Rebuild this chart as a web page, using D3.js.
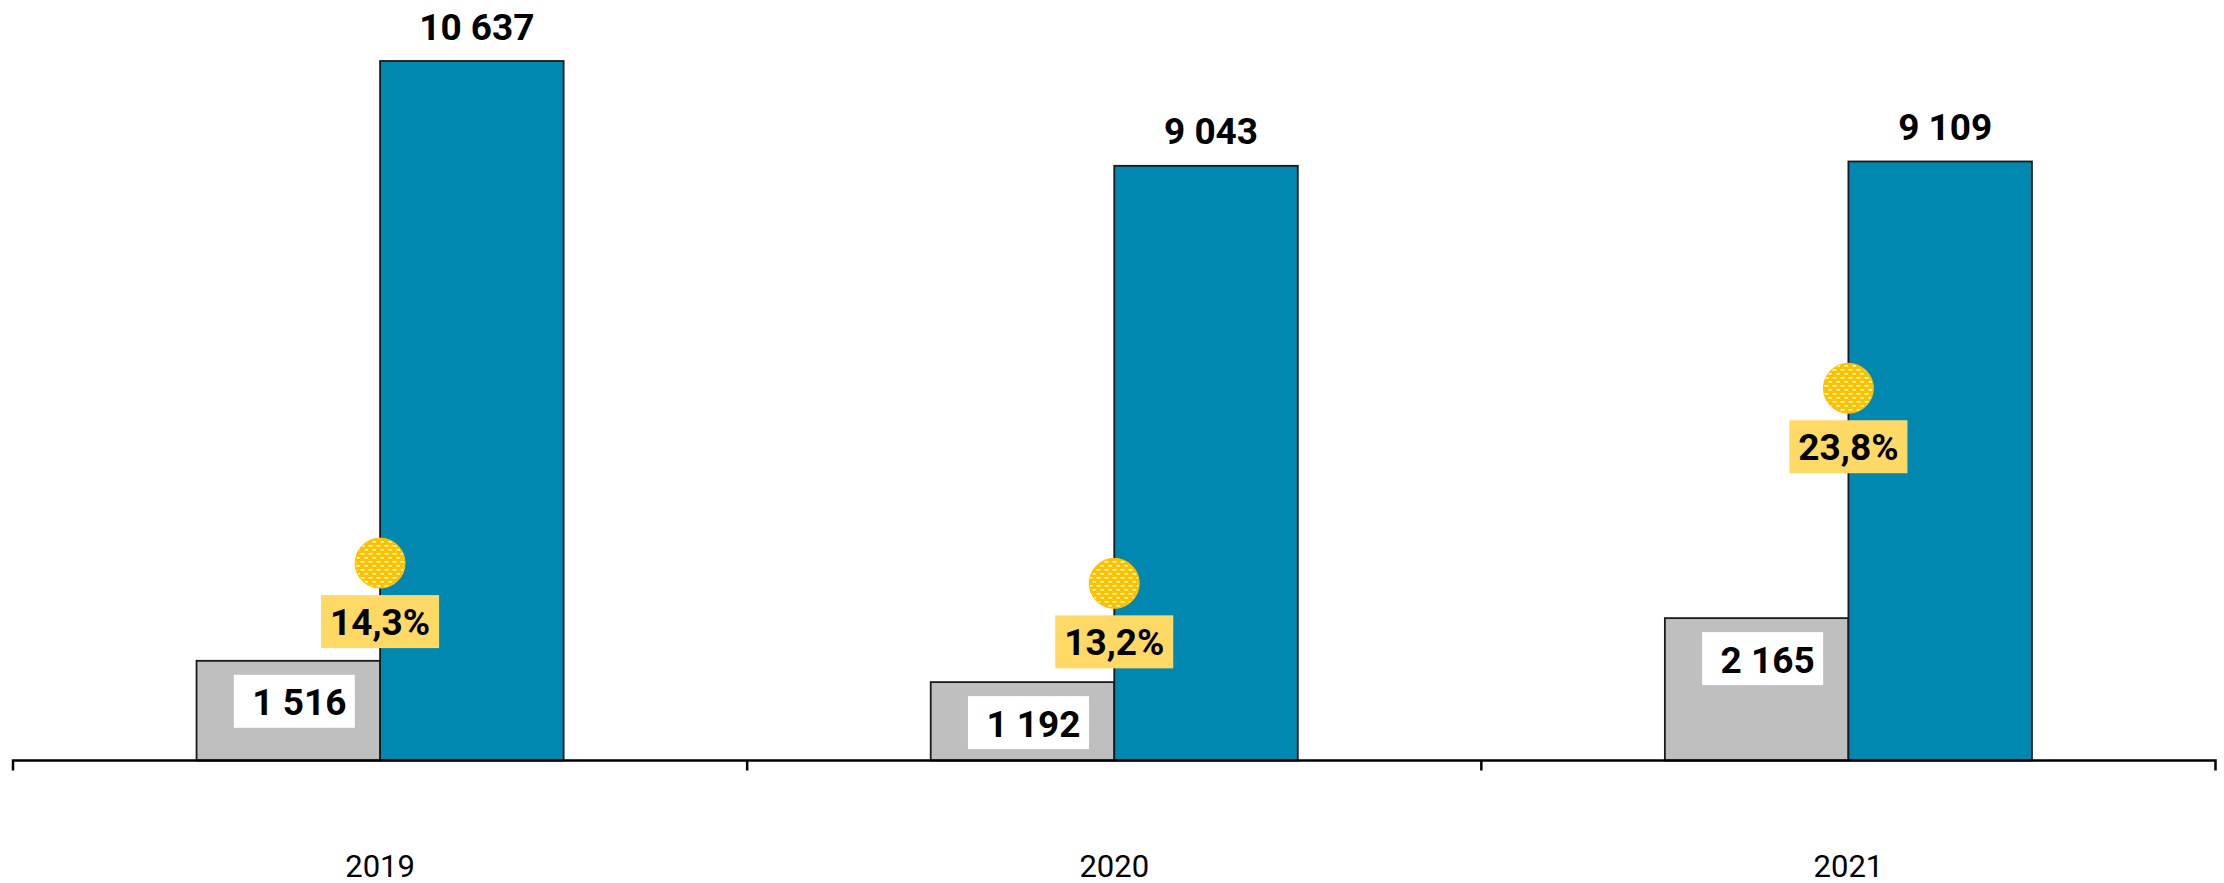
<!DOCTYPE html>
<html>
<head>
<meta charset="utf-8">
<script src="https://cdn.jsdelivr.net/npm/d3@7/dist/d3.min.js"></script>
<style>
  html, body { margin: 0; padding: 0; background: #fff; }
  svg { display: block; font-family: Roboto, "Noto Sans", sans-serif; }
</style>
</head>
<body>
<svg id="chart" width="2224" height="883"></svg>
<script>
// ---- data ----
const categories = ["2019", "2020", "2021"];
const grayValues = [1516, 1192, 2165];
const blueValues = [10637, 9043, 9109];
const shareValues = [14.3, 13.2, 23.8];
const grayLabels = ["1 516", "1 192", "2 165"];
const blueLabels = ["10 637", "9 043", "9 109"];
const shareLabels = ["14,3%", "13,2%", "23,8%"];

const svg = d3.select("#chart");
const W = 2224, H = 883;
const axisY = 760.5;
const x0 = 13, x1 = 2215.5;

const x = d3.scaleBand().domain(categories).range([x0, x1]).paddingInner(0).paddingOuter(0);
const y = d3.scaleLinear().domain([0, 10637]).range([axisY, 61]);
const y2 = d3.scaleLinear().domain([0, 45]).range([826.3, 826.3 - 45 * 18.406]);

const barW = x.bandwidth() * 0.25;
const cx = c => x(c) + x.bandwidth() / 2;

// pattern for the markers
const defs = svg.append("defs");
const pat = defs.append("pattern").attr("id", "brick").attr("patternUnits", "userSpaceOnUse")
  .attr("width", 8).attr("height", 8);
pat.append("rect").attr("width", 8).attr("height", 8).attr("fill", "#FFC000");
pat.append("rect").attr("x", 0.5).attr("y", 1).attr("width", 4).attr("height", 1.6).attr("fill", "#fff");
pat.append("rect").attr("x", 4.5).attr("y", 5).attr("width", 4).attr("height", 1.6).attr("fill", "#fff");

// gray bars
svg.append("g").selectAll("rect").data(categories).join("rect")
  .attr("x", c => cx(c) - barW)
  .attr("y", (c, i) => y(grayValues[i]))
  .attr("width", barW)
  .attr("height", (c, i) => axisY - y(grayValues[i]))
  .attr("fill", "#BFBFBF").attr("stroke", "#1a1a1a").attr("stroke-width", 1.8);

// blue bars
svg.append("g").selectAll("rect").data(categories).join("rect")
  .attr("x", c => cx(c))
  .attr("y", (c, i) => y(blueValues[i]))
  .attr("width", barW)
  .attr("height", (c, i) => axisY - y(blueValues[i]))
  .attr("fill", "#0088B0").attr("stroke", "#1a1a1a").attr("stroke-width", 1.8);

// axis
const axis = d3.axisBottom(x).tickSize(0).tickFormat("");
const gAxis = svg.append("g").attr("transform", `translate(0,${axisY})`).call(axis);
gAxis.select(".domain").attr("stroke", "#000").attr("stroke-width", 2.5).attr("d", `M${x0},10V0H${x1}V10`);
gAxis.selectAll(".tick").remove();
// category boundary ticks
const bounds = categories.slice(1).map(c => x(c));
svg.append("g").selectAll("line").data(bounds).join("line")
  .attr("x1", d => d).attr("x2", d => d)
  .attr("y1", axisY).attr("y2", axisY + 10)
  .attr("stroke", "#000").attr("stroke-width", 2.5);

// year labels
svg.append("g").selectAll("text").data(categories).join("text")
  .attr("x", c => cx(c)).attr("y", 876.5)
  .attr("text-anchor", "middle").attr("font-size", 31).attr("fill", "#000")
  .text(c => c);

// blue labels
svg.append("g").selectAll("text").data(categories).join("text")
  .attr("x", c => cx(c) + barW / 2 + 5)
  .attr("y", (c, i) => y(blueValues[i]) - 21.5)
  .attr("text-anchor", "middle").attr("font-size", 37).attr("font-weight", 700).attr("fill", "#000")
  .text((c, i) => blueLabels[i]);

// gray labels with white boxes
const boxW = 121, boxH = 53;
const gl = svg.append("g").selectAll("g").data(categories).join("g")
  .attr("transform", (c, i) => `translate(${cx(c) - barW / 2 + 6},${y(grayValues[i]) + 14})`);
gl.append("rect").attr("x", -boxW / 2).attr("y", 0).attr("width", boxW).attr("height", boxH).attr("fill", "#fff");
gl.append("text").attr("x", 5).attr("y", 40.5)
  .attr("text-anchor", "middle").attr("font-size", 37).attr("font-weight", 700).attr("fill", "#000")
  .text((c, i) => grayLabels[i]);

// share markers
svg.append("g").selectAll("circle").data(categories).join("circle")
  .attr("cx", c => cx(c)).attr("cy", (c, i) => y2(shareValues[i]))
  .attr("r", 25).attr("fill", "url(#brick)").attr("stroke", "#FFC000").attr("stroke-width", 1);

// share labels
const pW = 118, pH = 53;
const pl = svg.append("g").selectAll("g").data(categories).join("g")
  .attr("transform", (c, i) => `translate(${cx(c)},${y2(shareValues[i]) + 32})`);
pl.append("rect").attr("x", -pW / 2).attr("y", 0).attr("width", pW).attr("height", pH).attr("fill", "#FFD966");
pl.append("text").attr("x", 0).attr("y", 40)
  .attr("text-anchor", "middle").attr("font-size", 37).attr("font-weight", 700).attr("fill", "#000")
  .text((c, i) => shareLabels[i]);
</script>
</body>
</html>
